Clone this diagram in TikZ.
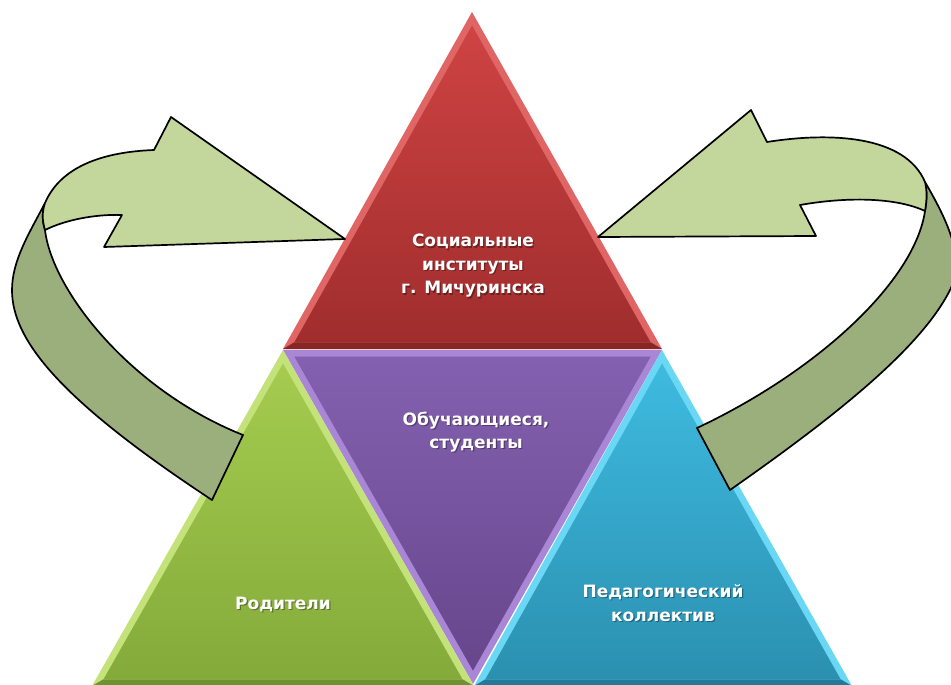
\documentclass[tikz,border=0pt]{standalone}
\usepackage{fontspec}
\setmainfont{DejaVu Sans}
\usetikzlibrary{calc}
\definecolor{redE}{HTML}{E06565}
\definecolor{redT}{HTML}{CF4343}
\definecolor{redB}{HTML}{A02D2D}
\definecolor{grnE}{HTML}{C4E27A}
\definecolor{grnT}{HTML}{A5CC4F}
\definecolor{grnB}{HTML}{84AA3A}
\definecolor{purE}{HTML}{A987D6}
\definecolor{purT}{HTML}{8461B0}
\definecolor{purB}{HTML}{67468C}
\definecolor{bluE}{HTML}{6AD8F4}
\definecolor{bluT}{HTML}{3EBBE0}
\definecolor{bluB}{HTML}{2B90B0}
\definecolor{arrL}{HTML}{C3D69B}
\definecolor{arrD}{HTML}{9BAF7D}
\newcommand\bevtri[8]{%
  \fill[#5] #2 -- #3 -- #4 -- cycle;
  \coordinate (#1g) at ($0.3333*#2+0.3333*#3+0.3334*#4$);
  \fill[#8] #3 -- #4 -- ($(#1g)!0.94!#4$) -- ($(#1g)!0.94!#3$) -- cycle;
  \shade[top color=#6,bottom color=#7] ($(#1g)!0.94!#2$) -- ($(#1g)!0.94!#3$) -- ($(#1g)!0.94!#4$) -- cycle;
}
\newcommand\lbl[3]{%
  \node[lbltext,text=black,opacity=0.35] at ($#2+(1.2,1.2)$) {#3};
  \node[lbltext] (#1) at #2 {#3};
}
\begin{document}
\begin{tikzpicture}[x=1pt,y=-1pt,
  lbltext/.style={text=white,font=\fontsize{17}{23.5}\selectfont\bfseries,align=center,inner sep=0pt},
  ribbon/.style={draw=black,line width=1.7pt,line join=round}]
\useasboundingbox (0,0) rectangle (951,685);
\clip (0,0) rectangle (951,685);
\fill[white] (0,0) rectangle (951,685);
% triangles
\bevtri{pur}{(473,684)}{(283,350)}{(662,350)}{purE}{purT}{purB}{purE}
\bevtri{grn}{(283,350)}{(92,686)}{(474,686)}{grnE}{grnT}{grnB}{grnB!85!black}
\bevtri{blu}{(662,350)}{(474,686)}{(852,686)}{bluE}{bluT}{bluB}{bluB!85!black}
\bevtri{red}{(472,12)}{(283,349)}{(662,349)}{redE}{redT}{redB}{redB!85!black}
% labels
\lbl{soc}{(473,266)}{Социальные\\институты\\г. Мичуринска}
\lbl{obu}{(476,432)}{Обучающиеся,\\студенты}
\lbl{rod}{(283,604)}{Родители}
\lbl{ped}{(663,603)}{Педагогический\\коллектив}
% left arrow: back (dark) part
\path[ribbon,fill=arrD] (45,203) .. controls (30,232) and (12,260) .. (12,290)
  .. controls (12,340) and (60,400) .. (212,500)
  -- (243,435)
  .. controls (130,390) and (52,290) .. (45,230)
  .. controls (42,220) and (42,212) .. (45,203) -- cycle;
% left arrow: front (light) part
\path[ribbon,fill=arrL] (154,150) -- (171,117) -- (345,239) -- (104,247) -- (122,215)
  .. controls (95,214) and (65,220) .. (45,230)
  .. controls (42,220) and (42,212) .. (45,203)
  .. controls (60,168) and (100,152) .. (154,150) -- cycle;
% right arrow: back (dark) part
\path[ribbon,fill=arrD] (925,182) .. controls (950,225) and (965,260) .. (950,290)
  .. controls (920,350) and (830,420) .. (730,490)
  -- (697,428)
  .. controls (820,370) and (915,280) .. (925,211)
  .. controls (927,200) and (927,190) .. (925,182) -- cycle;
% right arrow: front (light) part
\path[ribbon,fill=arrL] (767,142) -- (751,110) -- (598,237) -- (816,236) -- (800,205)
  .. controls (845,197) and (895,197) .. (925,211)
  .. controls (927,200) and (927,190) .. (925,182)
  .. controls (905,135) and (830,132) .. (767,142) -- cycle;
\end{tikzpicture}
\end{document}
